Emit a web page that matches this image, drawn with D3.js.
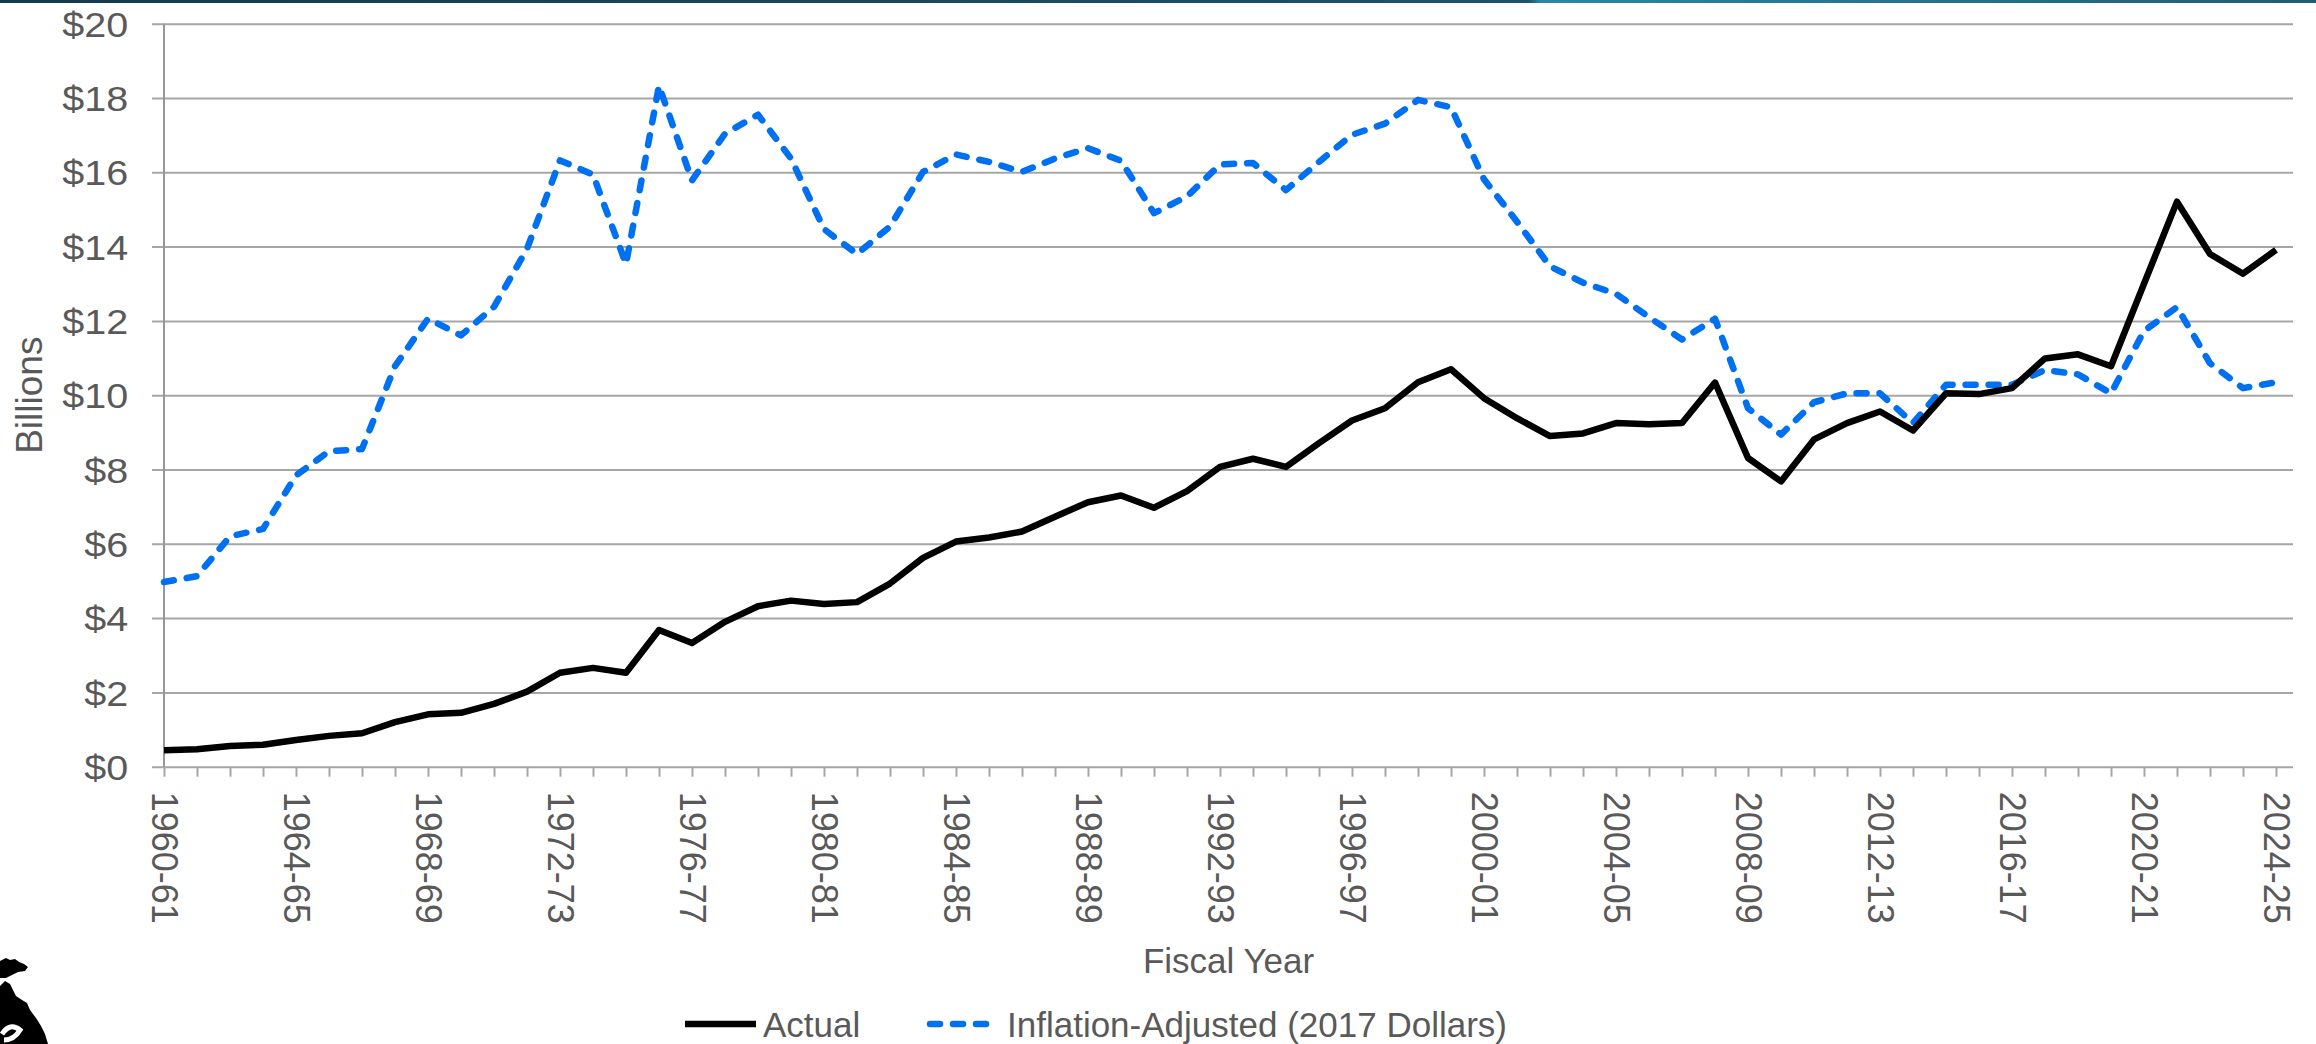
<!DOCTYPE html>
<meta charset="utf-8">
<style>
	body { margin: 0; background: #fff; }
	text { font-family: "Liberation Sans", Arial, sans-serif; fill: #595959; }
	.grid line { stroke: #a6a6a6; stroke-width: 2px; }
	.xaxis line { stroke: #a6a6a6; stroke-width: 2px; }
	.axis_line { stroke: #979797; stroke-width: 2px; }
	.actual { fill: none; stroke: #000; stroke-width: 6.5px; stroke-linejoin: round; }
	.adjusted { fill: none; stroke: #0070f3; stroke-width: 6.5px; stroke-dasharray: 10, 13; stroke-linecap: round; stroke-linejoin: round; }
</style>
<body>
<div id="chart"></div>
<script src="https://d3js.org/d3.v7.min.js"></script>
<script>
	// fiscal years, 1960-61 .. 2024-25
	var years = [
		"1960-61", "1961-62", "1962-63", "1963-64", "1964-65", "1965-66", "1966-67", "1967-68",
		"1968-69", "1969-70", "1970-71", "1971-72", "1972-73", "1973-74", "1974-75", "1975-76",
		"1976-77", "1977-78", "1978-79", "1979-80", "1980-81", "1981-82", "1982-83", "1983-84",
		"1984-85", "1985-86", "1986-87", "1987-88", "1988-89", "1989-90", "1990-91", "1991-92",
		"1992-93", "1993-94", "1994-95", "1995-96", "1996-97", "1997-98", "1998-99", "1999-00",
		"2000-01", "2001-02", "2002-03", "2003-04", "2004-05", "2005-06", "2006-07", "2007-08",
		"2008-09", "2009-10", "2010-11", "2011-12", "2012-13", "2013-14", "2014-15", "2015-16",
		"2016-17", "2017-18", "2018-19", "2019-20", "2020-21", "2021-22", "2022-23", "2023-24",
		"2024-25"
	];

	// billions of dollars
	var actual = [
		0.44, 0.47, 0.56, 0.59, 0.72, 0.83, 0.90, 1.20, 1.41, 1.45,
		1.69, 2.02, 2.53, 2.66, 2.53, 3.68, 3.33, 3.90, 4.32, 4.47,
		4.38, 4.43, 4.93, 5.62, 6.06, 6.17, 6.33, 6.73, 7.12, 7.30,
		6.97, 7.42, 8.07, 8.29, 8.07, 8.71, 9.32, 9.65, 10.35, 10.70,
		9.92, 9.38, 8.90, 8.97, 9.25, 9.22, 9.25, 10.34, 8.31, 7.68,
		8.81, 9.25, 9.56, 9.05, 10.05, 10.03, 10.19, 10.99, 11.10, 10.78,
		13.00, 15.21, 13.80, 13.27, 13.91
	];

	var adjusted = [
		4.97, 5.13, 6.20, 6.40, 7.84, 8.49, 8.55, 10.78, 12.06, 11.61,
		12.38, 13.94, 16.32, 15.94, 13.53, 18.33, 15.78, 17.04, 17.55, 16.37,
		14.47, 13.80, 14.54, 16.01, 16.48, 16.28, 16.01, 16.37, 16.65, 16.31,
		14.90, 15.35, 16.21, 16.25, 15.52, 16.28, 17.01, 17.31, 17.95, 17.75,
		15.81, 14.67, 13.47, 13.03, 12.73, 12.10, 11.50, 12.06, 9.65, 8.94,
		9.81, 10.05, 10.05, 9.25, 10.28, 10.28, 10.28, 10.68, 10.56, 10.05,
		11.73, 12.37, 10.86, 10.19, 10.35
	];

	var y_ticks = [0, 2, 4, 6, 8, 10, 12, 14, 16, 18, 20];
	var label_every = 4;

	var legend_items = [
		{name: "Actual", cls: "actual"},
		{name: "Inflation-Adjusted (2017 Dollars)", cls: "adjusted"}
	];

	var width = 2316, height = 1044;
	var plot = {left: 164, right: 2293, top: 23.7, bottom: 766.7};
	var last_x = 2276;

	var x = d3.scalePoint().domain(years).range([plot.left, last_x]);
	var y = d3.scaleLinear().domain([0, 20]).range([plot.bottom, plot.top]);

	var svg = d3.select("#chart").append("svg")
			.attr("width", width)
			.attr("height", height);

	// thin banner strip at the top
	var grad = svg.append("defs").append("linearGradient").attr("id", "band");
	grad.append("stop").attr("offset", "0").attr("stop-color", "#153a4d");
	grad.append("stop").attr("offset", "0.66").attr("stop-color", "#1d536b");
	grad.append("stop").attr("offset", "0.665").attr("stop-color", "#2b86a5");
	grad.append("stop").attr("offset", "1").attr("stop-color", "#1f5d75");
	svg.append("rect").attr("x", 0).attr("y", 0).attr("width", width).attr("height", 3)
			.attr("fill", "url(#band)");

	// horizontal gridlines + y labels
	var ygrid = svg.append("g")
			.attr("class", "grid")
			.attr("transform", "translate(152,0)")
			.call(d3.axisLeft(y)
					.tickValues(y_ticks)
					.tickSize(-(plot.right - 152))
					.tickPadding(21)
					.tickFormat(function (d) { return "$" + d; }));
	ygrid.select(".domain").remove();
	ygrid.selectAll("text")
			.style("font-size", "35px")
			.attr("dy", "0.36em")
			.attr("transform", "scale(1.13,1)");

	// category ticks + rotated labels
	var xaxis = svg.append("g")
			.attr("class", "xaxis")
			.attr("transform", "translate(0," + plot.bottom + ")")
			.call(d3.axisBottom(x)
					.tickSize(10)
					.tickFormat(function (d, i) { return i % label_every === 0 ? d : ""; }));
	xaxis.select(".domain").remove();
	xaxis.selectAll("text")
			.style("font-size", "36px")
			.style("text-anchor", "start")
			.attr("y", 0)
			.attr("x", 25)
			.attr("dy", "0.36em")
			.attr("transform", "rotate(90)");

	// vertical axis line
	svg.append("line")
			.attr("class", "axis_line")
			.attr("x1", plot.left).attr("x2", plot.left)
			.attr("y1", plot.top).attr("y2", plot.bottom);

	var line = d3.line()
			.x(function (d, i) { return x(years[i]); })
			.y(function (d) { return y(d); });

	svg.append("path").datum(adjusted).attr("class", "adjusted").attr("d", line);
	svg.append("path").datum(actual).attr("class", "actual").attr("d", line);

	// axis titles
	svg.append("text")
			.attr("transform", "translate(42," + ((plot.top + plot.bottom) / 2) + ") rotate(-90)")
			.style("text-anchor", "middle")
			.style("font-size", "37px")
			.text("Billions");

	svg.append("text")
			.attr("x", (plot.left + plot.right) / 2)
			.attr("y", 973)
			.style("text-anchor", "middle")
			.style("font-size", "35px")
			.text("Fiscal Year");

	// legend
	var legend_pos = [685, 927];
	var legend = svg.append("g");
	legend_items.forEach(function (item, i) {
		var g = legend.append("g").attr("transform", "translate(" + legend_pos[i] + ",1024)");
		g.append("line")
				.attr("class", item.cls)
				.attr("x1", item.cls === "adjusted" ? 3 : 0)
				.attr("x2", item.cls === "adjusted" ? 62 : 71)
				.attr("y1", 0).attr("y2", 0)
				.style("stroke-width", "6.5px");
		g.append("text")
				.attr("x", item.cls === "adjusted" ? 80 : 78)
				.attr("y", 13)
				.style("font-size", "35px")
				.text(item.name);
	});

	// state logo, bottom left corner
	var logo = svg.append("g");
	logo.append("path")
			.attr("fill", "#000")
			.attr("d", "M0,961 L6,958 L10,960 L15,959 L19,962 L24,964 L28,967 L25,971 L18,972 L12,975 L6,978 L0,978 Z");
	logo.append("path")
			.attr("fill", "#000")
			.attr("d", "M0,986 L5,981 L10,984 L13,990 L16,996 L22,1000 L27,1003 L30,1010 L36,1018 L41,1026 L45,1034 L48,1044 L0,1044 Z");
	logo.append("path")
			.attr("fill", "none")
			.attr("stroke", "#fff")
			.attr("stroke-width", 5)
			.attr("d", "M2,1034 Q10,1022 20,1030 Q14,1040 4,1040");
</script>
</body>
